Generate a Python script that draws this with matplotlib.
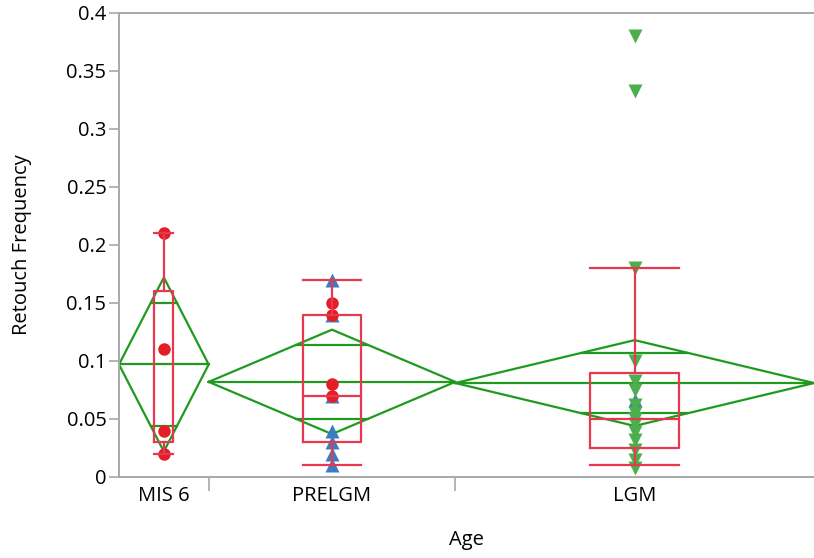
import numpy as np
import matplotlib
matplotlib.use("Agg")
import matplotlib.pyplot as plt

# veri
groups = ["MIS 6", "PRELGM", "LGM"]
n_obs = [4, 11, 16]

circle_grp = [0, 0, 0, 0, 1, 1, 1, 1]
circle_val = [0.21, 0.11, 0.04, 0.02, 0.15, 0.14, 0.08, 0.07]
up_grp = [1, 1, 1, 1, 1, 1, 1, 2]
up_val = [0.17, 0.14, 0.07, 0.04, 0.03, 0.02, 0.01, 0.066]
down_grp = [2] * 15
down_val = [0.38, 0.333, 0.18, 0.10, 0.083, 0.075, 0.062, 0.055, 0.05,
            0.046, 0.039, 0.032, 0.023, 0.015, 0.008]

box_q1 = [0.03, 0.03, 0.025]
box_med = [None, 0.07, 0.05]
box_q3 = [0.16, 0.14, 0.09]
whisk_lo = [0.02, 0.01, 0.01]
whisk_hi = [0.21, 0.17, 0.18]

means = [0.097, 0.082, 0.081]
ci_half = [0.075, 0.045, 0.037]

# stil
red_pt = "#e41e26"
blue_pt = "#3b7dc0"
green_pt = "#4cae4c"
box_col = "#e8384f"
dia_col = "#1f9a1f"
gray = "#a8a8a8"
box_w = [0.85, 2.63, 4.0]
fs = 14.5

plt.rcParams['font.family'] = ['Open Sans', 'DejaVu Sans']

fig = plt.figure(figsize=(8.14, 5.58), dpi=100)
ax = fig.add_axes([119 / 814, 1 - 477 / 558, 1 - 119 / 814, (477 - 13) / 558])

edges = np.concatenate([[0], np.cumsum(n_obs)])
centers = (edges[:-1] + edges[1:]) / 2

# ortalama elmaslari
for i in range(len(groups)):
    l, r, c = edges[i], edges[i + 1], centers[i]
    m, h = means[i], ci_half[i]
    ax.plot([l, c, r, c, l], [m, m + h, m, m - h, m], color=dia_col, lw=1.6, zorder=2)
    ax.plot([l, r], [m, m], color=dia_col, lw=1.6, zorder=2)
    hw = (r - l) / 2 * (1 - 1 / np.sqrt(2))
    for s in (1, -1):
        y = m + s * h / np.sqrt(2)
        ax.plot([c - hw, c + hw], [y, y], color=dia_col, lw=1.6, zorder=2)

# noktalar
ax.plot(centers[up_grp], up_val, ls="none", marker="^", ms=10.5, color=blue_pt, mec="none", zorder=3)
ax.plot(centers[down_grp], down_val, ls="none", marker="v", ms=10.5, color=green_pt, mec="none", zorder=4)
ax.plot(centers[circle_grp], circle_val, ls="none", marker="o", ms=9, color=red_pt, mec="none", zorder=5)

# kutu grafikleri
for i in range(len(groups)):
    c, w = centers[i], box_w[i] / 2
    ax.plot([c - w, c + w, c + w, c - w, c - w],
            [box_q1[i], box_q1[i], box_q3[i], box_q3[i], box_q1[i]], color=box_col, lw=1.6, zorder=6)
    if box_med[i] is not None:
        ax.plot([c - w, c + w], [box_med[i]] * 2, color=box_col, lw=1.6, zorder=6)
    ax.plot([c, c], [whisk_lo[i], box_q1[i]], color=box_col, lw=1.6, zorder=6)
    ax.plot([c, c], [box_q3[i], whisk_hi[i]], color=box_col, lw=1.6, zorder=6)
    for y in (whisk_lo[i], whisk_hi[i]):
        ax.plot([c - w, c + w], [y, y], color=box_col, lw=1.6, zorder=6)

ax.set_xlim(0, edges[-1])
ax.set_ylim(0, 0.4)
ax.set_yticks(np.arange(0, 0.41, 0.05))
ax.set_yticklabels(["0", "0.05", "0.1", "0.15", "0.2", "0.25", "0.3", "0.35", "0.4"])
ax.set_xticks(edges[1:-1])
ax.set_xticklabels([])
ax.tick_params(axis="x", length=10, color=gray, width=1.2)
ax.tick_params(axis="y", length=7, color=gray, width=1.2, labelsize=fs, pad=2)
for i, g in enumerate(groups):
    ax.text(centers[i], -0.016, g, ha="center", va="center", fontsize=fs)

for s in ("left", "bottom", "top"):
    ax.spines[s].set_color(gray)
    ax.spines[s].set_linewidth(1.4)
ax.spines["right"].set_visible(False)

ax.text(-0.1396, 0.5, "Retouch Frequency", rotation=90, ha="center", va="center",
        fontsize=fs, transform=ax.transAxes)
ax.text(0.5, -0.136, "Age", ha="center", va="center", fontsize=fs, transform=ax.transAxes)

fig.savefig("out.png", dpi=100)
